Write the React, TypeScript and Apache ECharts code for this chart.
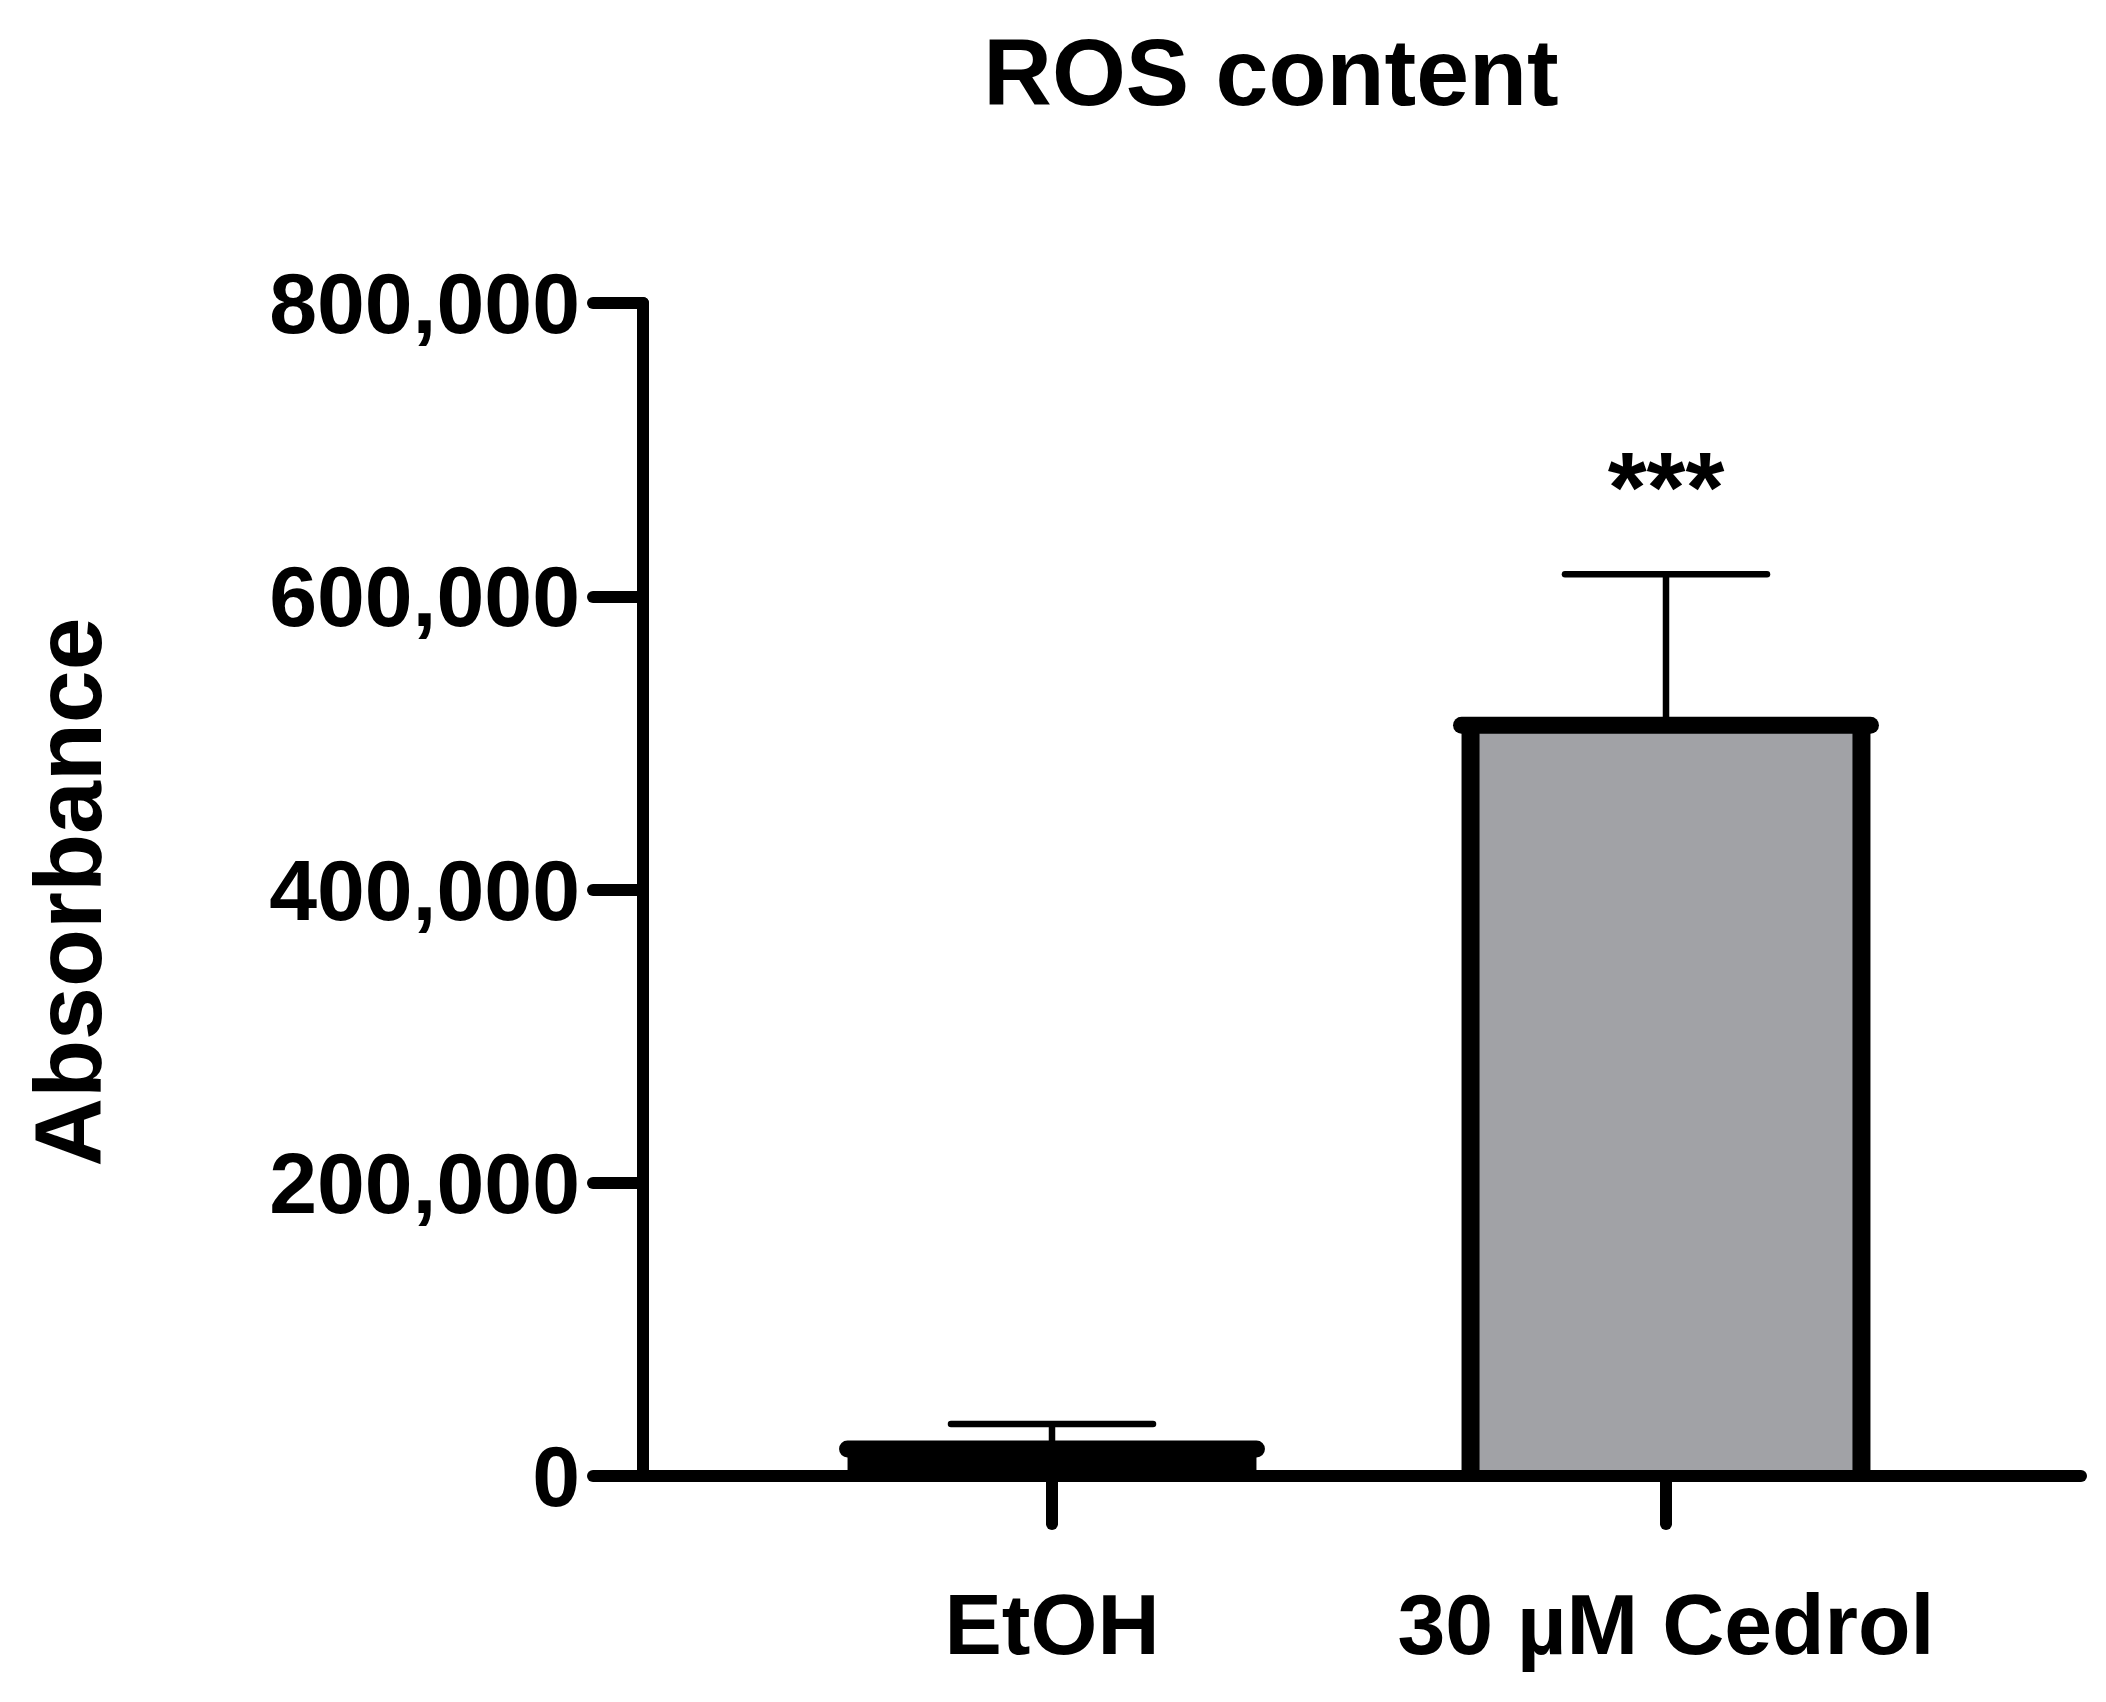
import React, { useEffect, useRef } from "react";
import * as echarts from "echarts";

const categories = ["EtOH", "30 µM Cedrol"];
const means = [18400, 512000];
const sds = [17000, 103000];
const barFills = ["#000000", "#a1a2a6"];
const significance = ["", "***"];
const yMin = 0;
const yMax = 800000;
const yInterval = 200000;
const titleText = "ROS content";
const yAxisTitle = "Absorbance";

const FONT = "'Liberation Sans', Arial, Helvetica, sans-serif";

export default function App() {
  const ref = useRef<HTMLDivElement>(null);
  useEffect(() => {
    if (!ref.current) return;
    const chart = echarts.init(ref.current, null, { renderer: "svg" });
    const data = categories.map((c, i) => [i, means[i], sds[i]]);
    const option: any = {
      animation: false,
      backgroundColor: "#ffffff",
      grid: [
        { left: 643, right: 25, top: 303, bottom: 226 },
        { left: 745, right: 133, top: 303, bottom: 226 },
      ],
      xAxis: [
        {
          type: "value",
          gridIndex: 0,
          min: 0,
          max: 1,
          z: 10,
          axisLine: { show: true, onZero: false, lineStyle: { color: "#000", width: 12, cap: "round" } },
          axisTick: { show: false },
          axisLabel: { show: false },
          splitLine: { show: false },
        },
        {
          type: "category",
          gridIndex: 1,
          data: categories,
          z: 10,
          axisLine: { show: false },
          axisTick: {
            show: true,
            alignWithLabel: true,
            interval: 0,
            length: 48,
            lineStyle: { color: "#000", width: 12, cap: "round" },
          },
          axisLabel: {
            show: true,
            interval: 0,
            hideOverlap: false,
            margin: 105,
            color: "#000",
            fontSize: 86,
            fontWeight: "bold",
            fontFamily: FONT,
          },
          splitLine: { show: false },
        },
      ],
      yAxis: [
        {
          type: "value",
          gridIndex: 0,
          min: yMin,
          max: yMax,
          interval: yInterval,
          z: 10,
          axisLine: { show: true, lineStyle: { color: "#000", width: 12, cap: "round" } },
          axisTick: { show: true, length: 50, lineStyle: { color: "#000", width: 12, cap: "round" } },
          axisLabel: {
            show: true,
            margin: 63,
            color: "#000",
            fontSize: 86,
            fontWeight: "bold",
            fontFamily: FONT,
            formatter: (v: number) => v.toLocaleString("en-US"),
          },
          splitLine: { show: false },
        },
        {
          type: "value",
          gridIndex: 1,
          min: yMin,
          max: yMax,
          interval: yInterval,
          show: false,
        },
      ],
      graphic: [
        {
          type: "text",
          x: 1271,
          y: 72,
          style: {
            text: titleText,
            fontSize: 95,
            fontWeight: "bold",
            fontFamily: FONT,
            fill: "#000",
            align: "center",
            verticalAlign: "middle",
          },
        },
        {
          type: "text",
          x: 68,
          y: 892,
          rotation: Math.PI / 2,
          style: {
            text: yAxisTitle,
            fontSize: 95,
            fontWeight: "bold",
            fontFamily: FONT,
            fill: "#000",
            align: "center",
            verticalAlign: "middle",
          },
        },
      ],
      series: [
        {
          type: "custom",
          xAxisIndex: 1,
          yAxisIndex: 1,
          z: 5,
          encode: { x: 0, y: 1 },
          data,
          renderItem: (params: any, api: any) => {
            const i = params.dataIndex;
            const xv = api.value(0);
            const m = api.value(1);
            const s = api.value(2);
            const base = api.coord([xv, 0]);
            const top = api.coord([xv, m]);
            const err = api.coord([xv, m + s]);
            const band = api.size([1, 0])[0];
            const cx = top[0];
            const half = band * 0.333;
            const sw = 18;
            const inner = half - sw / 2;
            const capHalf = band * 0.1645;
            const children: any[] = [
              {
                type: "line",
                shape: { x1: cx, y1: top[1], x2: cx, y2: err[1] },
                style: { stroke: "#000", lineWidth: 6.5 },
              },
              {
                type: "line",
                shape: { x1: cx - capHalf, y1: err[1], x2: cx + capHalf, y2: err[1] },
                style: { stroke: "#000", lineWidth: 6.5, lineCap: "round" },
              },
              {
                type: "rect",
                shape: { x: cx - inner, y: top[1], width: inner * 2, height: base[1] - top[1] },
                style: { fill: barFills[i] },
              },
              {
                type: "line",
                shape: { x1: cx - inner, y1: top[1], x2: cx - inner, y2: base[1] },
                style: { stroke: "#000", lineWidth: sw },
              },
              {
                type: "line",
                shape: { x1: cx + inner, y1: top[1], x2: cx + inner, y2: base[1] },
                style: { stroke: "#000", lineWidth: sw },
              },
              {
                type: "line",
                shape: { x1: cx - half, y1: top[1], x2: cx + half, y2: top[1] },
                style: { stroke: "#000", lineWidth: 17, lineCap: "round" },
              },
            ];
            if (significance[i]) {
              children.push({
                type: "text",
                x: cx,
                y: err[1] - 87,
                style: {
                  text: significance[i],
                  fontSize: 100,
                  fontWeight: "bold",
                  fontFamily: FONT,
                  fill: "#000",
                  align: "center",
                  verticalAlign: "middle",
                },
              });
            }
            return { type: "group", children };
          },
        },
      ],
    };
    chart.setOption(option);
    return () => chart.dispose();
  }, []);
  return (
    <div
      ref={ref}
      style={{ position: "fixed", left: 0, top: 0, width: 2106, height: 1702, background: "#fff" }}
    />
  );
}
